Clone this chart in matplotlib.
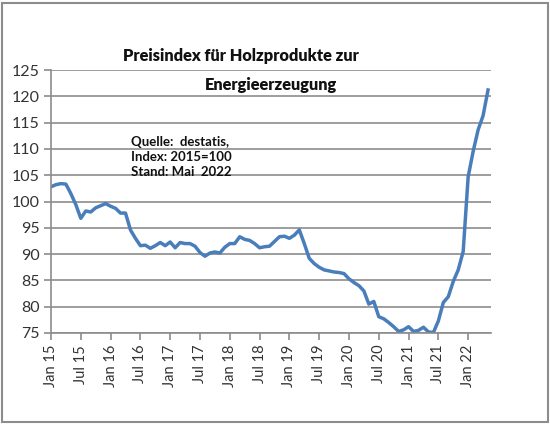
import matplotlib
matplotlib.use("Agg")
import matplotlib.pyplot as plt
from matplotlib.patches import Rectangle

plt.rcParams['font.family'] = ['Lato', 'DejaVu Sans']

# monthly index values, Jan 2015 .. May 2022 (2015 = 100)
index_values = [
    102.8, 103.2, 103.4, 103.3, 101.5, 99.4, 96.8, 98.2, 98.0, 98.8, 99.2, 99.6,   # 2015
    99.1, 98.7, 97.8, 97.8, 94.6, 93.0, 91.6, 91.7, 91.1, 91.6, 92.2, 91.6,        # 2016
    92.3, 91.2, 92.2, 92.0, 92.0, 91.5, 90.3, 89.6, 90.2, 90.4, 90.2, 91.3,        # 2017
    92.0, 92.0, 93.3, 92.8, 92.6, 92.0, 91.2, 91.4, 91.5, 92.4, 93.3, 93.4,        # 2018
    93.0, 93.6, 94.6, 92.0, 89.2, 88.2, 87.5, 87.0, 86.8, 86.6, 86.5, 86.3,        # 2019
    85.3, 84.6, 84.0, 83.0, 80.5, 81.0, 78.1, 77.7, 77.0, 76.2, 75.3, 75.6,        # 2020
    76.2, 75.3, 75.5, 76.1, 75.2, 75.1, 77.3, 80.8, 81.9, 84.8, 87.0, 90.5,        # 2021
    104.7, 109.5, 113.6, 116.3, 121.2,                                              # 2022
]
tick_labels = ["Jan 15", "Jul 15", "Jan 16", "Jul 16", "Jan 17", "Jul 17", "Jan 18",
               "Jul 18", "Jan 19", "Jul 19", "Jan 20", "Jul 20", "Jan 21", "Jul 21",
               "Jan 22"]
y_ticks = [75, 80, 85, 90, 95, 100, 105, 110, 115, 120, 125]

title_lines = ["Preisindex für Holzprodukte zur", "Energieerzeugung"]
note_text = "Quelle:  destatis,\nIndex: 2015=100\nStand: Mai  2022"

fig = plt.figure(figsize=(5.5, 4.24), dpi=100)
ax = fig.add_axes([51 / 550, 1 - 333 / 424, 440 / 550, 263 / 424])

months = list(range(len(index_values)))
ax.plot(months, index_values, color='#4a7ebb', linewidth=2.5, solid_joinstyle='round')

ax.set_xlim(0, 88.6)
ax.set_ylim(75, 125)
ax.set_yticks(y_ticks)
ax.set_xticks(range(0, 6 * len(tick_labels), 6))
ax.set_xticklabels(tick_labels, rotation=90)
ax.yaxis.grid(True, color='#8c8c8c', linewidth=1.2)
ax.set_axisbelow(True)

for side in ['top', 'right']:
    ax.spines[side].set_visible(False)
for side in ['left', 'bottom']:
    ax.spines[side].set_color('#8c8c8c')
    ax.spines[side].set_linewidth(1.2)
ax.tick_params(axis='both', colors='#8c8c8c', width=1.2, length=5,
               labelcolor='#333333')
ax.tick_params(axis='y', pad=3, labelsize=11.5)
ax.tick_params(axis='x', labelsize=10.5)

fig.text(241 / 550, 1 - 56 / 424, title_lines[0], ha='center', va='center',
         fontsize=11.8, fontweight='heavy', color='#111111')
fig.text(271 / 550, 1 - 85 / 424, title_lines[1], ha='center', va='center',
         fontsize=11.8, fontweight='heavy', color='#111111')
fig.text(131 / 550, 1 - 157 / 424, note_text, ha='left', va='center',
         fontsize=9.5, fontweight='bold', color='#111111', linespacing=1.3)

fig.patches.append(Rectangle((1.5 / 550, 2 / 424), 546 / 550, 419 / 424,
                             transform=fig.transFigure, fill=False,
                             edgecolor='#8c8c8c', linewidth=1.5))

fig.savefig('out.png', dpi=100)
